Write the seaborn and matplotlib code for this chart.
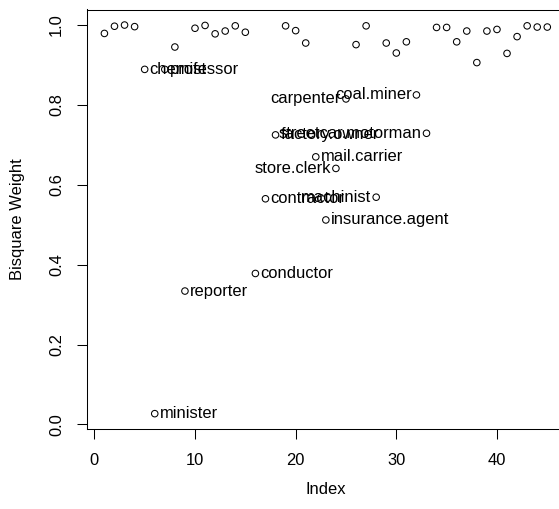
import matplotlib
matplotlib.use("Agg")
import matplotlib.pyplot as plt
import pandas as pd
import seaborn as sns

occupations = [
    "accountant", "pilot", "architect", "author", "chemist", "minister",
    "professor", "dentist", "reporter", "engineer", "undertaker", "lawyer",
    "physician", "welfare.worker", "teacher", "conductor", "contractor",
    "factory.owner", "store.manager", "banker", "bookkeeper", "mail.carrier",
    "insurance.agent", "store.clerk", "carpenter", "electrician", "RR.engineer",
    "machinist", "auto.repairman", "plumber", "gas.stn.attendant", "coal.miner",
    "streetcar.motorman", "taxi.driver", "truck.driver", "machine.operator",
    "barber", "bartender", "shoe.shiner", "cook", "soda.clerk", "watchman",
    "janitor", "policeman", "waiter",
]
weights = [
    0.979, 0.997, 1.000, 0.996, 0.889, 0.027, 0.889, 0.945, 0.334, 0.992,
    0.999, 0.978, 0.985, 0.998, 0.982, 0.378, 0.565, 0.725, 0.998, 0.986,
    0.955, 0.670, 0.512, 0.641, 0.815, 0.951, 0.998, 0.569, 0.955, 0.930,
    0.958, 0.825, 0.729, 0.994, 0.994, 0.958, 0.985, 0.906, 0.985, 0.989,
    0.929, 0.971, 0.998, 0.995, 0.995,
]
labels_right = ["chemist", "minister", "professor", "reporter", "conductor",
                "contractor", "factory.owner", "mail.carrier", "insurance.agent"]
labels_left = ["store.clerk", "carpenter", "machinist", "coal.miner",
               "streetcar.motorman"]
x_ticks = [0, 10, 20, 30, 40]
y_ticks = [0.0, 0.2, 0.4, 0.6, 0.8, 1.0]
y_tick_labels = ["0.0", "0.2", "0.4", "0.6", "0.8", "1.0"]

sns.set_style("white")
plt.rcParams["font.family"] = ["Liberation Sans", "DejaVu Sans"]
FS = 11.9
plt.rcParams["font.size"] = FS

df = pd.DataFrame({"Index": range(1, len(weights) + 1),
                   "weight": weights,
                   "occupation": occupations})

W, H = 559, 509
fig = plt.figure(figsize=(W / 100, H / 100), dpi=100)
left, right, top, bottom = 86.7, 565.0, 9.5, 429.2
ax = fig.add_axes([left / W, (H - bottom) / H, (right - left) / W, (bottom - top) / H])

sns.scatterplot(data=df, x="Index", y="weight", ax=ax, marker="o", s=22,
                facecolor="none", edgecolor="black", linewidth=0.75,
                legend=False, zorder=3)

n = len(weights)
ax.set_xlim(1 - 0.04 * (n - 1), n + 0.04 * (n - 1))
ymin, ymax = min(weights), max(weights)
rng = ymax - ymin
ax.set_ylim(ymin - 0.04 * rng, ymax + 0.04 * rng)

for _, row in df.iterrows():
    if row["occupation"] in labels_right:
        ax.annotate(row["occupation"], (row["Index"], row["weight"]),
                    xytext=(3.6, 0), textcoords="offset points",
                    ha="left", va="center", fontsize=FS, color="black")
    elif row["occupation"] in labels_left:
        ax.annotate(row["occupation"], (row["Index"], row["weight"]),
                    xytext=(-3.6, 0), textcoords="offset points",
                    ha="right", va="center", fontsize=FS, color="black")

ax.set_xticks(x_ticks)
ax.set_xticklabels([str(t) for t in x_ticks])
ax.set_yticks(y_ticks)
ax.set_yticklabels(y_tick_labels, rotation=90, va="center")

for s in ax.spines.values():
    s.set_visible(True)
    s.set_color("black")
    s.set_linewidth(0.75)
ax.tick_params(axis="both", direction="out", length=7.2, width=0.75,
               color="black", labelcolor="black", labelsize=FS,
               bottom=True, left=True, top=False, right=False)
ax.tick_params(axis="x", pad=10)
ax.tick_params(axis="y", pad=9)

ax.set_xlabel("Index", fontsize=FS, va="center", color="black")
ax.set_ylabel("Bisquare Weight", fontsize=FS, va="center", color="black")
ax.xaxis.set_label_coords(0.5, (bottom - 490) / (bottom - top))
ax.yaxis.set_label_coords((17.5 - left) / (right - left), 0.5)
ax.grid(False)

fig.savefig("out.png", dpi=100, facecolor="white")
